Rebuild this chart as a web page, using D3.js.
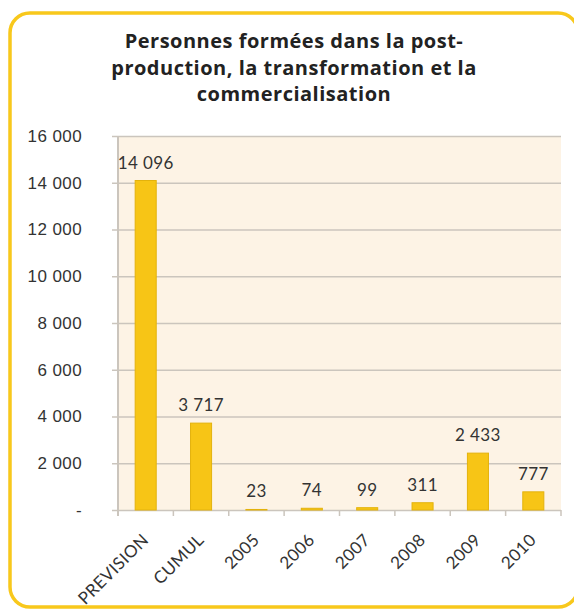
<!DOCTYPE html>
<html>
<head>
  <style>
  body {
    margin: 0;
    background: #fff;
    font-family: Lato, "Open Sans", sans-serif;
  }

  .frame {
    fill: none;
    stroke: #f8c81c;
    stroke-width: 3.5;
  }

  .title {
    font-family: "Open Sans", sans-serif;
    font-weight: bold;
    font-size: 20px;
    letter-spacing: 0.5px;
    fill: #222;
    text-anchor: middle;
  }

  .plotbg {
    fill: #fdf3e5;
  }

  .grid line {
    stroke: #cbc5bd;
    stroke-width: 1.5;
  }

  .y .domain {
    display: none;
  }

  .tick text {
    font-size: 17px;
    letter-spacing: 0.4px;
    fill: #333;
  }

  .bar {
    fill: #f7c516;
    stroke: #e3b20c;
    stroke-width: 1;
  }

  .label {
    font-size: 17px;
    letter-spacing: 0.4px;
    fill: #333;
    text-anchor: middle;
  }

  .xlabel {
    font-size: 17px;
    letter-spacing: 0.4px;
    fill: #333;
    text-anchor: end;
  }
  </style>
  <script src="https://d3js.org/d3.v7.min.js"></script>
</head>
<body>
<div id="container"></div>
<script>
var categories = ["PREVISION", "CUMUL", "2005", "2006", "2007", "2008", "2009", "2010"]
var values = [14096, 3717, 23, 74, 99, 311, 2433, 777]
var yTicks = [0, 2000, 4000, 6000, 8000, 10000, 12000, 14000, 16000]
var titleLines = ["Personnes formées dans la post-", "production, la transformation et la", "commercialisation"]

var W = 574, H = 611
var plot = { left: 118, right: 561, top: 136, bottom: 510 }

var svg = d3.select("#container").append("svg")
    .attr("width", W)
    .attr("height", H)

svg.append("rect")
  .attr("class", "frame")
  .attr("x", 10)
  .attr("y", 13)
  .attr("width", 568)
  .attr("height", 594)
  .attr("rx", 20)

svg.selectAll(".title")
  .data(titleLines)
.enter().append("text")
  .attr("class", "title")
  .attr("x", 294)
  .attr("y", function(d, i) { return 48 + i * 26.5 })
  .text(function(d) { return d })

var x = d3.scaleBand()
  .domain(categories)
  .range([plot.left, plot.right])
  .paddingInner(0.62)
  .paddingOuter(0.31)

var xb = d3.scaleBand()
  .domain(categories)
  .range([plot.left, plot.right])

var y = d3.scaleLinear()
  .domain([0, 16000])
  .range([plot.bottom, plot.top])

svg.append("rect")
  .attr("class", "plotbg")
  .attr("x", plot.left)
  .attr("y", plot.top)
  .attr("width", plot.right - plot.left)
  .attr("height", plot.bottom - plot.top)

var fmt = function(v) {
  if (v === 0) return "-"
  return d3.format(",")(v).replace(/,/g, " ")
}

// gridlines + y labels
var yax = d3.axisLeft(y)
  .tickValues(yTicks)
  .tickSize(-(plot.right - plot.left + 6))
  .tickFormat(fmt)

svg.append("g")
  .attr("class", "y grid")
  .attr("transform", "translate(" + (plot.left - 6) + ",0)")
  .call(yax)
  .selectAll(".tick text")
    .attr("x", -30)

// left axis line
svg.append("line")
  .attr("x1", plot.left).attr("x2", plot.left)
  .attr("y1", plot.top).attr("y2", plot.bottom + 6)
  .attr("stroke", "#cbc5bd")
  .attr("stroke-width", 2)

// category boundary ticks
svg.append("g")
  .attr("class", "grid")
  .selectAll("line")
  .data(categories)
.enter().append("line")
  .attr("x1", function(d) { return xb(d) + xb.bandwidth() })
  .attr("x2", function(d) { return xb(d) + xb.bandwidth() })
  .attr("y1", plot.bottom)
  .attr("y2", plot.bottom + 6)

svg.selectAll(".bar")
  .data(values)
.enter().append("rect")
  .attr("class", "bar")
  .attr("x", function(d, i) { return x(categories[i]) })
  .attr("y", function(d) { return y(d) })
  .attr("width", x.bandwidth())
  .attr("height", function(d) { return plot.bottom - y(d) })

svg.selectAll(".label")
  .data(values)
.enter().append("text")
  .attr("class", "label")
  .attr("x", function(d, i) { return xb(categories[i]) + xb.bandwidth() / 2 })
  .attr("y", function(d) { return y(d) - 12 })
  .text(fmt)

svg.selectAll(".xlabel")
  .data(categories)
.enter().append("text")
  .attr("class", "xlabel")
  .attr("transform", function(d) {
    return "translate(" + (xb(d) + xb.bandwidth() / 2 + 4) + "," + (plot.bottom + 31) + ") rotate(-45)"
  })
  .text(function(d) { return d })
</script>
</body>
</html>
